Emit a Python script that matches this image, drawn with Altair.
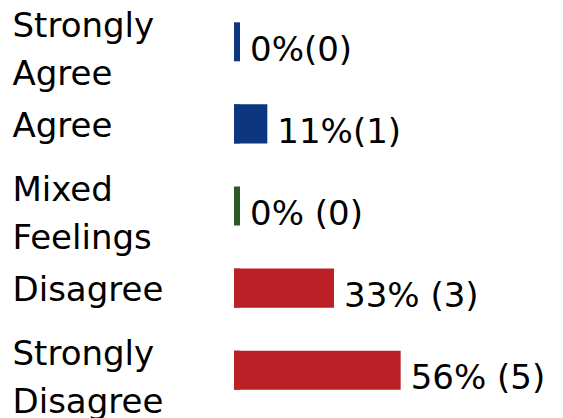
import altair as alt
import pandas as pd

categories = ["Strongly\nAgree", "Agree", "Mixed\nFeelings", "Disagree", "Strongly\nDisagree"]
counts = [0, 1, 0, 3, 5]
total = 9
value_labels = ["0%(0)", "11%(1)", "0% (0)", "33% (3)", "56% (5)"]
bar_colors = ["#0c3680", "#0c3680", "#2b5824", "#bb2026", "#bb2026"]

df = pd.DataFrame({
    "cat": categories,
    "count": counts,
    "pct": [c / total * 100 for c in counts],
    "label": value_labels,
})

FONT = "DejaVu Sans"

y = alt.Y(
    "cat:N",
    sort=categories,
    scale=alt.Scale(paddingInner=0.524, paddingOuter=0.174),
    axis=alt.Axis(
        title=None, domain=False, ticks=False, grid=False,
        labelAlign="left", labelPadding=222, labelFont=FONT, labelFontSize=34,
        labelColor="#000000", labelLineHeight=48, labelBaseline="middle",
        labelOffset={"condition": {"test": "indexof(datum.label, '\\n') >= 0", "value": -15},
                     "value": 3},
        labelLimit=0,
        labelExpr="split(datum.label, '\\n')",
    ),
)
x_scale = alt.Scale(domain=[0, 107], nice=False, zero=True)
color = alt.Color("cat:N", scale=alt.Scale(domain=categories, range=bar_colors), legend=None)

base = alt.Chart(df)

bars = base.mark_bar().encode(
    x=alt.X("pct:Q", scale=x_scale, axis=None),
    y=y,
    color=color,
)

ticks = base.mark_tick(thickness=6, size=39, xOffset=3, opacity=1).encode(
    x=alt.X("zero:Q", scale=x_scale, axis=None),
    y=alt.Y("cat:N", sort=categories),
    color=color,
).transform_calculate(zero="0")

texts = base.mark_text(
    align="left", baseline="alphabetic", dx=10, dy=19,
    font=FONT, fontSize=34, color="#000000",
).encode(
    x=alt.X("lx:Q", scale=x_scale, axis=None),
    y=alt.Y("cat:N", sort=categories),
    text="label:N",
).transform_calculate(lx="max(datum.pct, 2)")

chart = alt.layer(bars, ticks, texts).properties(
    width=321, height=396,
    autosize=alt.AutoSizeParams(type="none"),
    padding={"left": 226, "top": 0, "right": 0, "bottom": 14},
).configure(background="white").configure_view(stroke=None)

chart.save("out.html", embed_options={"renderer": "svg", "actions": False})
